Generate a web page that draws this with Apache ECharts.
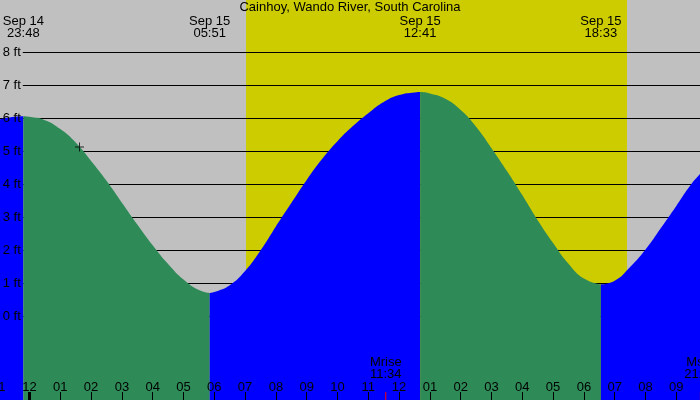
<!DOCTYPE html>
<html><head><meta charset="utf-8">
<script src="https://cdn.jsdelivr.net/npm/echarts@6/dist/echarts.min.js"></script>
<style>html,body{margin:0;padding:0;background:#c0c0c0}#c{width:700px;height:400px}</style>
</head><body><div id="c"></div>
<script>
// ---- data (hours are relative to midnight starting Sep 15) ----
const titleText = 'Cainhoy, Wando River, South Carolina';
const hourLabels = ['11','12','01','02','03','04','05','06','07','08','09','10','11','12','01','02','03','04','05','06','07','08','09','10'];
const levelTicks = [0,1,2,3,4,5,6,7,8];
const extremeHours = [-0.2, 5.85, 12.683, 18.55];
const extremeDates = ['Sep 14','Sep 15','Sep 15','Sep 15'];
const extremeTimes = ['23:48','05:51','12:41','18:33'];
const daylight = [7.03, 19.4];
const moonHours = [11.567, 21.783];
const moonNames = ['Mrise','Mset'];
const moonTimes = ['11:34','21:47'];
const dayBoundaries = [0];
const nowPoint = [1.623, 5.14];
const rise0 = [[-1,5.97],[-0.5,6.05],[-0.2,6.07]];
const fall1 = [[-0.2,6.07],[0,6.05],[0.5,5.95],[1,5.68],[1.5,5.27],[2,4.71],[2.5,4.11],[3,3.45],[3.5,2.79],[4,2.16],[4.5,1.59],[5,1.12],[5.5,0.8],[5.85,0.71]];
const rise1 = [[5.85,0.71],[6,0.74],[6.5,0.95],[7,1.38],[7.5,2.0],[8,2.73],[8.5,3.44],[9,4.14],[9.5,4.77],[10,5.31],[10.5,5.77],[11,6.16],[11.5,6.5],[12,6.71],[12.5,6.79],[12.683,6.8]];
const fall2 = [[12.683,6.8],[13,6.76],[13.5,6.6],[14,6.26],[14.5,5.75],[15,5.1],[15.5,4.41],[16,3.68],[16.5,2.92],[17,2.23],[17.5,1.6],[18,1.15],[18.55,0.97]];
const rise2 = [[18.55,0.97],[19,1.08],[19.5,1.5],[20,2.03],[20.5,2.68],[21,3.35],[21.5,4.03],[21.8,4.35]];

// ---- styles ----
const FONT = '"Liberation Sans", Arial, sans-serif';
const BLUE = '#0000ff', GREEN = '#2e8b57', YELLOW = '#cccc00', GRAY = '#c0c0c0';
const Y_MIN = -3, Y_MAX = 10;

const splitColors = [];
for (let v = Y_MIN; v <= Y_MAX; v++) splitColors.push(levelTicks.includes(v) ? '#000' : 'rgba(0,0,0,0)');

function areaSeries(data, color) {
  return { type: 'line', data, smooth: 0.5, symbol: 'none', silent: true, z: 4,
    lineStyle: { width: 0, color }, areaStyle: { color, opacity: 1, origin: 'start' } };
}

const chart = echarts.init(document.getElementById('c'));
chart.setOption({
  animation: false,
  backgroundColor: GRAY,
  title: { text: titleText, left: 'center', top: 0, padding: 0,
    textStyle: { fontFamily: FONT, fontSize: 13, fontWeight: 'normal', color: '#000', lineHeight: 15 } },
  grid: { left: -1.3, right: -7.1, top: -13.5, bottom: -15.5, containLabel: false, outerBoundsMode: 'none' },
  xAxis: { type: 'value', min: -1, max: 22, interval: 1, z: 10, offset: -15.5,
    axisLine: { show: false, onZero: false },
    axisTick: { show: true, inside: true, length: 8, lineStyle: { color: '#000', width: 1 } },
    axisLabel: { show: true, inside: true, margin: 6, color: '#000', fontFamily: FONT, fontSize: 13,
      showMinLabel: true, showMaxLabel: true,
      formatter: v => { const s = hourLabels[Math.round(v) + 1]; return s === undefined ? '' : s; } },
    splitLine: { show: false } },
  yAxis: [
    { type: 'value', min: Y_MIN, max: Y_MAX, interval: 1, z: 2,
      axisLine: { show: false, onZero: false }, axisTick: { show: false }, axisLabel: { show: false },
      splitLine: { show: true, lineStyle: { color: splitColors, width: 1 } } },
    { type: 'value', min: Y_MIN, max: Y_MAX, interval: 1, z: 10, position: 'left',
      axisLine: { show: false, onZero: false }, axisTick: { show: false }, splitLine: { show: false },
      axisLabel: { inside: true, margin: 0,
        formatter: v => levelTicks.includes(v) ? (v > 6.5 ? '{g|' + v + ' ft}' : '{n|' + v + ' ft}') : '',
        rich: {
          g: { backgroundColor: GRAY, padding: [1, 2, 1, 4], fontFamily: FONT, fontSize: 13, color: '#000' },
          n: { padding: [1, 2, 1, 4], fontFamily: FONT, fontSize: 13, color: '#000' } } } }
  ],
  series: [
    { type: 'line', data: [], silent: true, z: 1,
      markArea: { silent: true, itemStyle: { color: YELLOW, opacity: 1 }, label: { show: false },
        data: [[{ xAxis: daylight[0] }, { xAxis: daylight[1] }]] } },
    areaSeries(rise0, BLUE),
    areaSeries(fall1, GREEN),
    areaSeries(rise1, BLUE),
    areaSeries(fall2, GREEN),
    areaSeries(rise2, BLUE),
    { type: 'scatter', data: [nowPoint], silent: true, z: 6,
      symbol: 'path://M0,4H9V5H0Z M4,0H5V9H4Z', symbolSize: 9, itemStyle: { color: '#000' } },
    { type: 'custom', coordinateSystem: 'cartesian2d', clip: false, silent: true, z: 10,
      data: extremeHours.map((h, i) => [h, i]),
      renderItem: (p, api) => {
        const i = api.value(1); const x = api.coord([api.value(0), 0])[0];
        return { type: 'text', x, y: 27, style: { text: extremeDates[i] + '\n' + extremeTimes[i],
          align: 'center', verticalAlign: 'middle', fontFamily: FONT, fontSize: 13, lineHeight: 12, fill: '#000' } };
      } },
    { type: 'custom', coordinateSystem: 'cartesian2d', clip: false, silent: true, z: 11,
      data: moonHours.map((h, i) => [h, i]),
      renderItem: (p, api) => {
        const i = api.value(1); const x = api.coord([api.value(0), 0])[0];
        return { type: 'group', children: [
          { type: 'text', x, y: 368, style: { text: moonNames[i] + '\n' + moonTimes[i],
            align: 'center', verticalAlign: 'middle', fontFamily: FONT, fontSize: 13, lineHeight: 12, fill: '#000' } },
          { type: 'line', shape: { x1: x, y1: 392, x2: x, y2: 400 }, style: { stroke: '#ff0000', lineWidth: 1 } }
        ] };
      } },
    { type: 'custom', coordinateSystem: 'cartesian2d', clip: false, silent: true, z: 11,
      data: dayBoundaries.map(h => [h, 0]),
      renderItem: (p, api) => {
        const x = api.coord([api.value(0), 0])[0];
        return { type: 'rect', shape: { x: x - 1.5, y: 392, width: 3, height: 8 }, style: { fill: '#000' } };
      } }
  ]
});
</script></body></html>
